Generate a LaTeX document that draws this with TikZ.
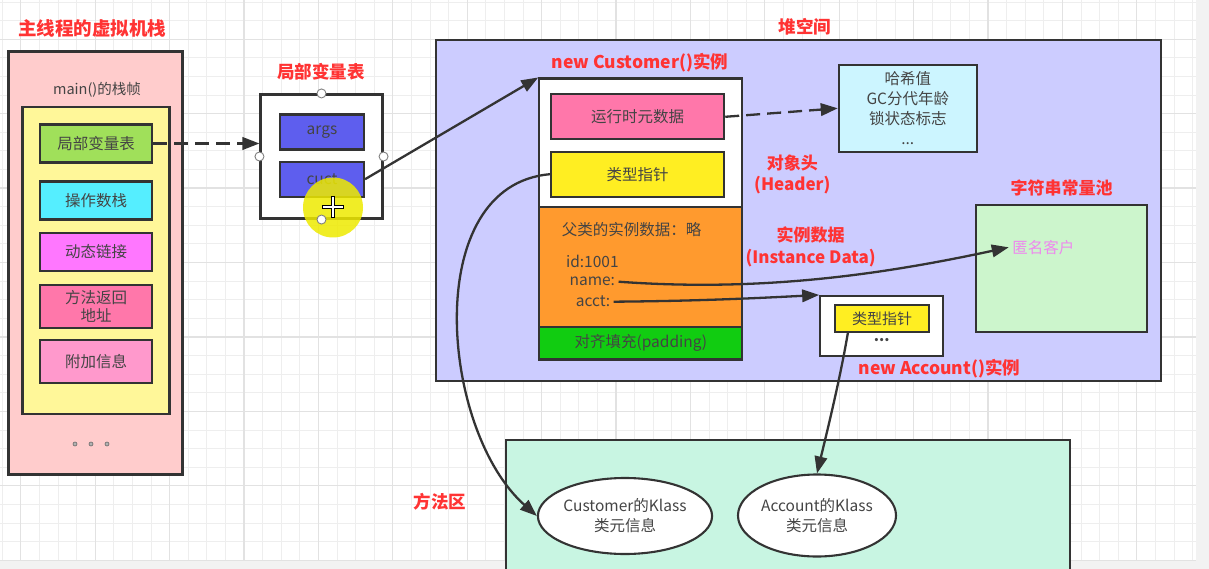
\documentclass[tikz,border=0pt]{standalone}
\usepackage{fontspec}
\setmainfont{Noto Sans CJK SC}
\usetikzlibrary{arrows.meta,shapes.geometric}
\definecolor{bordc}{HTML}{333333}
\definecolor{txtc}{HTML}{444444}
\definecolor{titlered}{HTML}{FF3333}
\definecolor{gridminor}{HTML}{EEEEEE}
\definecolor{gridmajor}{HTML}{E2E2E2}
\definecolor{stackc}{HTML}{FFCCCC}
\definecolor{framec}{HTML}{FFF799}
\definecolor{lvtc}{HTML}{A0E05A}
\definecolor{opc}{HTML}{55EEFF}
\definecolor{dync}{HTML}{FF77FF}
\definecolor{retc}{HTML}{FF77AA}
\definecolor{addc}{HTML}{FF99CC}
\definecolor{slotc}{HTML}{5E5EEE}
\definecolor{heapc}{HTML}{CCCCFF}
\definecolor{hashc}{HTML}{CCF5FF}
\definecolor{metac}{HTML}{FF77AA}
\definecolor{ptrc}{HTML}{FFEE22}
\definecolor{orangec}{HTML}{FF9A2E}
\definecolor{padc}{HTML}{11CC11}
\definecolor{poolc}{HTML}{CCF5CC}
\definecolor{methc}{HTML}{C8F5E2}
\definecolor{anonc}{HTML}{EE88EE}
\definecolor{hilite}{HTML}{EEEA00}
\begin{document}
\begin{tikzpicture}[x=1pt,y=-1pt,
  box/.style={draw=bordc, line width=2.1pt, inner sep=0pt, align=center},
  lbl/.style={font=\fontsize{15.5}{20}\selectfont, text=txtc, align=center},
  ttl/.style={font=\fontsize{17.5}{21}\selectfont\bfseries, text=titlered, align=center},
  arr/.style={draw=bordc, line width=2.3pt, -{Triangle[length=17pt,width=12.5pt]}},
  dasharr/.style={arr, dash pattern=on 14pt off 7pt},
  handle/.style={circle, draw=gray, fill=white, line width=0.9pt, inner sep=0pt, minimum size=9pt},
]
\useasboundingbox (0,0) rectangle (1209,569);
\fill[white] (0,0) rectangle (1209,569);
% grid
\foreach \k in {0,...,65} \draw[gridminor, line width=0.8pt] ({2.2+\k*18.6},0) -- ({2.2+\k*18.6},569);
\foreach \k in {0,...,31} \draw[gridminor, line width=0.8pt] (0,{2.1+\k*18.6}) -- (1209,{2.1+\k*18.6});
\foreach \k in {0,...,16} \draw[gridmajor, line width=1.2pt] ({20.8+\k*74.4},0) -- ({20.8+\k*74.4},569);
\foreach \k in {0,...,7} \draw[gridmajor, line width=1.2pt] (0,{39.3+\k*74.4}) -- (1209,{39.3+\k*74.4});
\fill[black!5] (1196,0) rectangle (1209,569);
\fill[black!5] (0,561) rectangle (1209,569);

% ---------- thread stack ----------
\node[ttl, font=\fontsize{18.5}{22}\selectfont\bfseries] (tstack) at (92,28) {主线程的虚拟机栈};
\node[box, fill=stackc, minimum width=174, minimum height=423] (stack) at (95.5,263) {};
\node[lbl, font=\fontsize{14.5}{18}\selectfont] (frame) at (97,90) {main()的栈帧};
\node[box, fill=framec, minimum width=147, minimum height=307] (fbox) at (96,260.5) {};
\node[box, lbl, fill=lvtc, minimum width=112, minimum height=38] (lvt) at (96,143.5) {局部变量表};
\node[box, lbl, fill=opc, minimum width=112, minimum height=38] (ops) at (96,200.5) {操作数栈};
\node[box, lbl, fill=dync, minimum width=112, minimum height=38] (dyn) at (96,252) {动态链接};
\node[box, lbl, fill=retc, minimum width=112, minimum height=43, font=\fontsize{15.5}{18.5}\selectfont] (ret) at (96,306.5) {方法返回\\地址};
\node[box, lbl, fill=addc, minimum width=112, minimum height=43] (add) at (96,361.5) {附加信息};
\foreach \x in {75,91,107} \draw[gray!80!black, fill=gray!60, line width=0.6pt] (\x,444) circle (2pt);

% ---------- local variable table ----------
\node[ttl] (tlvt) at (321,72) {局部变量表};
\node[box, fill=white, minimum width=122, minimum height=124] (lt) at (321.5,156.5) {};
\node[box, lbl, fill=slotc, minimum width=84, minimum height=35] (args) at (322,132) {args};
\node[box, lbl, fill=slotc, minimum width=84, minimum height=35] (cust) at (322,179.2) {cuct};
\node[handle] (h1) at (lt.north) {};
\node[handle] (h2) at (lt.west) {};
\node[handle] (h3) at (lt.east) {};

% ---------- heap ----------
\node[ttl] (theap) at (805,27) {堆空间};
\node[box, fill=heapc, minimum width=725, minimum height=341] (heap) at (798.5,210.5) {};
\node[ttl] (tcust) at (640,63) {new Customer()实例};
\node[box, fill=white, minimum width=203, minimum height=281] (cobj) at (640.8,219) {};
\node[box, fill=orangec, minimum width=203, minimum height=120] (inst) at (640.8,267.3) {};
\node[box, lbl, fill=padc, minimum width=203, minimum height=32] (pad) at (640.8,343.3) {对齐填充(padding)};
\node[box, lbl, fill=metac, minimum width=173, minimum height=45] (meta) at (637.7,116.8) {运行时元数据};
\node[box, lbl, fill=ptrc, minimum width=173, minimum height=45] (ptr) at (637.7,174.2) {类型指针};
\node[lbl] (super) at (631.7,230) {父类的实例数据：略};
\node[lbl] (fid) at (592.3,261) {id:1001};
\node[lbl] (fname) at (592.3,281.7) {name:};
\node[lbl] (facct) at (593,301.7) {acct:};
\node[ttl, font=\fontsize{17}{21}\selectfont\bfseries] (thead) at (792.3,174) {对象头\\(Header)};
\node[ttl, font=\fontsize{17}{22}\selectfont\bfseries] (tdata) at (810.7,247) {实例数据\\(Instance Data)};
\node[box, lbl, fill=hashc, minimum width=138, minimum height=87] (hash) at (907.8,108.3) {哈希值\\GC分代年龄\\锁状态标志\\...};
\node[ttl, font=\fontsize{17}{21}\selectfont\bfseries] (tpool) at (1061.7,188.3) {字符串常量池};
\node[box, fill=poolc, minimum width=171, minimum height=127] (pool) at (1061.3,268.3) {};
\node[lbl, text=anonc] (anon) at (1043.3,247.3) {匿名客户};
\node[box, fill=white, minimum width=123, minimum height=60] (acc) at (881.7,326) {};
\node[box, lbl, fill=ptrc, minimum width=94, minimum height=27, font=\fontsize{15}{18}\selectfont] (aptr) at (882,318.3) {类型指针};
\node[lbl, font=\fontsize{15}{18}\selectfont\bfseries] (adots) at (881.7,340.5) {...};
\node[ttl] (tacc) at (939.3,368.3) {new Account()实例};

% ---------- method area ----------
\node[box, fill=methc, minimum width=564, minimum height=140] (ma) at (788,510) {};
\node[ttl] (tma) at (440,501.7) {方法区};
\node[ellipse, box, lbl, fill=white, minimum width=166, minimum height=76] (ck) at (625,516) {Customer的Klass\\类元信息};
\node[ellipse, box, lbl, fill=white, minimum width=155, minimum height=82] (ak) at (817,515.5) {Account的Klass\\类元信息};

% ---------- connectors ----------
\draw[dasharr] (lvt.east) -- (lt.west |- lvt.east);
\draw[arr] (cust.east) -- (cobj.north west);
\draw[dasharr] (meta.east) -- (hash.west);
\draw[arr] (fname.east) .. controls (760,292) and (880,275) .. (anon.west);
\draw[arr] (facct.east) .. controls (700,301) and (760,298) .. (acc.north west);
\draw[arr] (ptr.west) .. controls (420,185) and (440,430) .. (ck.west);
\coordinate (aps) at (848,332);
\draw[arr] (aps) .. controls (840,380) and (825,440) .. (ak.north);

% ---------- cursor highlight ----------
\fill[hilite, opacity=0.85] (333,207.5) circle (30pt);
\node[handle] (h4) at (lt.south) {};
\draw[black, line width=3.6pt] (322,207) -- (344,207) (333,196) -- (333,218);
\draw[white, line width=1.6pt] (323,207) -- (343,207) (333,197) -- (333,217);
\end{tikzpicture}
\end{document}
